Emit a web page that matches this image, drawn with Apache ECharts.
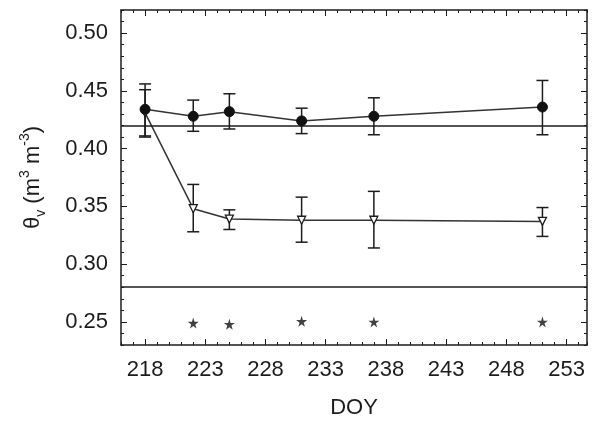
<!DOCTYPE html>
<html>
<head>
<meta charset="utf-8">
<script src="https://cdn.jsdelivr.net/npm/echarts@6/dist/echarts.min.js"></script>
<style>
  html, body { margin: 0; padding: 0; background: #fff; }
  #main { width: 597px; height: 424px; }
</style>
</head>
<body>
<div id="main"></div>
<script>
// DOY of each sampling
var doy = [218, 222, 225, 231, 237, 251];

// filled circles
var circleMean = [0.434, 0.428, 0.432, 0.424, 0.428, 0.436];
var circleLow  = [0.411, 0.415, 0.417, 0.413, 0.412, 0.412];
var circleHigh = [0.456, 0.442, 0.4475, 0.435, 0.444, 0.459];

// open triangles
var triMean = [0.431, 0.348, 0.339, 0.338, 0.338, 0.337];
var triLow  = [0.410, 0.328, 0.330, 0.319, 0.314, 0.324];
var triHigh = [0.451, 0.369, 0.347, 0.358, 0.363, 0.349];

// significance stars
var starDoy = [222, 225, 231, 237, 251];
var starY   = [0.249, 0.248, 0.2505, 0.250, 0.250];

// reference lines
var refLines = [0.42, 0.28];

var xTicks = [218, 223, 228, 233, 238, 243, 248, 253];
var yTicks = [0.25, 0.30, 0.35, 0.40, 0.45, 0.50];

var xMin = 216, xMax = 254.7;
var yMin = 0.23, yMax = 0.52;

var ink = '#1c1c1c';
var font = 'Liberation Sans, Arial, sans-serif';
var starPath = 'path://M50,0 L61,35 L98,35 L68,57 L79,91 L50,70 L21,91 L32,57 L2,35 L39,35 Z';

function xAxisDef(pos, major, extra) {
    var a = {
        type: 'value', min: xMin, max: xMax, position: pos,
        axisLine: { show: major, onZero: false, lineStyle: { color: ink, width: 1.5 } },
        axisTick: { show: true, inside: true, length: major ? 6 : 3, lineStyle: { color: ink, width: 1 } },
        axisLabel: { show: false },
        splitLine: { show: false }
    };
    if (major) {
        a.axisTick.customValues = xTicks;
        a.axisLabel.customValues = xTicks;
    } else {
        a.interval = 1;
    }
    return Object.assign(a, extra || {});
}

function yAxisDef(pos, major, extra) {
    var a = {
        type: 'value', min: yMin, max: yMax, position: pos,
        axisLine: { show: major, onZero: false, lineStyle: { color: ink, width: 1.5 } },
        axisTick: { show: true, inside: true, length: major ? 6 : 3, lineStyle: { color: ink, width: 1 } },
        axisLabel: { show: false },
        splitLine: { show: false }
    };
    if (major) {
        a.axisTick.customValues = yTicks;
        a.axisLabel.customValues = yTicks;
    } else {
        a.interval = 0.01;
    }
    return Object.assign(a, extra || {});
}

function errorBars(lows, highs) {
    return {
        type: 'custom',
        data: doy.map(function (d, i) { return [d, lows[i], highs[i]]; }),
        encode: { x: 0, y: [1, 2] },
        z: 3,
        renderItem: function (params, api) {
            var lo = api.coord([api.value(0), api.value(1)]);
            var hi = api.coord([api.value(0), api.value(2)]);
            var w = 6;
            var st = { stroke: ink, lineWidth: 1.5 };
            return {
                type: 'group',
                children: [
                    { type: 'line', shape: { x1: hi[0], y1: hi[1], x2: lo[0], y2: lo[1] }, style: st },
                    { type: 'line', shape: { x1: hi[0] - w, y1: hi[1], x2: hi[0] + w, y2: hi[1] }, style: st },
                    { type: 'line', shape: { x1: lo[0] - w, y1: lo[1], x2: lo[0] + w, y2: lo[1] }, style: st }
                ]
            };
        }
    };
}

var chart = echarts.init(document.getElementById('main'));

chart.setOption({
    animation: false,
    backgroundColor: '#fff',
    textStyle: { fontFamily: font },
    grid: { left: 121, right: 10, top: 10, bottom: 75 },
    xAxis: [
        xAxisDef('bottom', true, {
            axisLabel: { show: true, customValues: xTicks, fontSize: 22, color: ink, margin: 14, fontFamily: font },
            name: 'DOY', nameLocation: 'middle', nameGap: 52,
            nameTextStyle: { fontSize: 22, color: ink, fontFamily: font }
        }),
        xAxisDef('bottom', false),
        xAxisDef('top', true),
        xAxisDef('top', false)
    ],
    yAxis: [
        yAxisDef('left', true, {
            axisLabel: {
                show: true, customValues: yTicks, fontSize: 22, color: ink, margin: 13, fontFamily: font,
                formatter: function (v) { return v.toFixed(2); }
            },
            name: '{t|θ}{sub|v}{t| (m}{sup|3}{t| m}{sup|-3}{t|)}',
            nameLocation: 'middle', nameGap: 73,
            nameTextStyle: {
                color: ink, fontFamily: font,
                rich: {
                    t: { fontSize: 22, lineHeight: 30, color: ink, fontFamily: font },
                    sub: { fontSize: 14, lineHeight: 14, verticalAlign: 'bottom', color: ink, fontFamily: font },
                    sup: { fontSize: 14, lineHeight: 14, verticalAlign: 'top', color: ink, fontFamily: font }
                }
            }
        }),
        yAxisDef('left', false),
        yAxisDef('right', true),
        yAxisDef('right', false)
    ],
    series: [
        {
            type: 'line',
            data: [],
            silent: true,
            markLine: {
                silent: true,
                symbol: 'none',
                label: { show: false },
                lineStyle: { color: ink, width: 1.5, type: 'solid' },
                data: refLines.map(function (v) { return { yAxis: v }; })
            }
        },
        errorBars(triLow, triHigh),
        errorBars(circleLow, circleHigh),
        {
            type: 'line',
            data: doy.map(function (d, i) { return [d, triMean[i]]; }),
            symbol: 'triangle',
            symbolRotate: 180,
            symbolSize: 8,
            lineStyle: { color: '#333', width: 1.5 },
            itemStyle: { color: '#fff', borderColor: ink, borderWidth: 1.3 },
            z: 4
        },
        {
            type: 'line',
            data: doy.map(function (d, i) { return [d, circleMean[i]]; }),
            symbol: 'circle',
            symbolSize: 10,
            lineStyle: { color: '#333', width: 1.5 },
            itemStyle: { color: '#111', borderColor: '#111', borderWidth: 1 },
            z: 5
        },
        {
            type: 'scatter',
            data: starDoy.map(function (d, i) { return [d, starY[i]]; }),
            symbol: starPath,
            symbolSize: 11,
            itemStyle: { color: '#111' },
            z: 5
        }
    ]
});
</script>
</body>
</html>
